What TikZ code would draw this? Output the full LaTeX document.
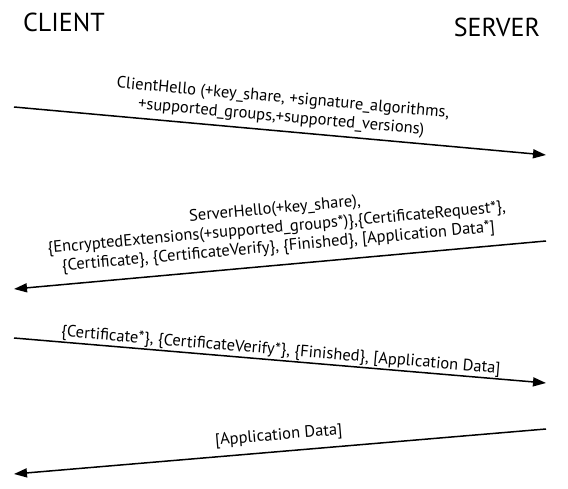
\documentclass[tikz,border=0pt]{standalone}
\usepackage{fontspec}
\setmainfont{PT Sans}
\usetikzlibrary{arrows.meta}

\begin{document}
\begin{tikzpicture}[x=1pt, y=-1pt, >={Triangle[length=13pt,width=9pt]},
  msg/.style={->, line width=1.5pt},
  lbl/.style={sloped, above, align=center, inner sep=2pt,
    font=\fontsize{16.5}{19}\selectfont},
  party/.style={font=\fontsize{26}{30}\selectfont}]
\useasboundingbox (0,0) rectangle (568,489);
\node[party] (client) at (64,22) {CLIENT};
\node[party] (server) at (497,27) {SERVER};
% ends of the four messages
\coordinate (c1) at (14,107);  \coordinate (s1) at (546,155);
\coordinate (s2) at (546,241); \coordinate (c2) at (14,289);
\coordinate (c3) at (14,338);  \coordinate (s3) at (546,383);
\coordinate (s4) at (546,429); \coordinate (c4) at (14,474);
\draw[msg] (c1) -- node[lbl, inner sep=5pt] (hello) {ClientHello (+key\_share, +signature\_algorithms,\\
  +supported\_groups,+supported\_versions)} (s1);
\draw[msg] (s2) -- node[lbl, inner sep=9pt] (reply) {ServerHello(+key\_share),\\
  \{EncryptedExtensions(+supported\_groups*)\},\{CertificateRequest*\},\\
  \{Certificate\}, \{CertificateVerify\}, \{Finished\}, [Application Data*]} (c2);
\draw[msg] (c3) -- node[lbl, inner sep=1pt] (fin) {\{Certificate*\}, \{CertificateVerify*\}, \{Finished\}, [Application Data]} (s3);
\draw[msg] (s4) -- node[lbl, inner sep=7pt] (data) {[Application Data]} (c4);
\end{tikzpicture}
\end{document}
